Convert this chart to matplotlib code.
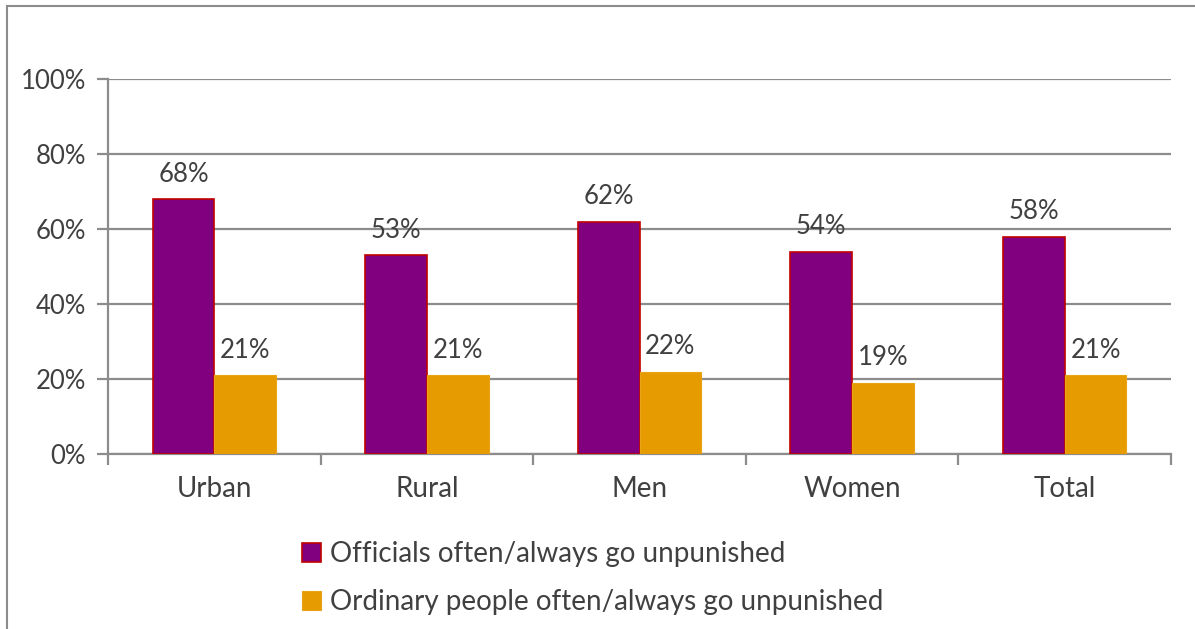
import numpy as np
import matplotlib
matplotlib.use("Agg")
import matplotlib.pyplot as plt
from matplotlib.patches import Rectangle

categories = ["Urban", "Rural", "Men", "Women", "Total"]
officials = [68, 53, 62, 54, 58]
ordinary = [21, 21, 22, 19, 21]
series_names = ["Officials often/always go unpunished",
                "Ordinary people often/always go unpunished"]

plt.rcParams['font.family'] = ['Lato', 'DejaVu Sans']
txt = '#404040'
grid = '#8c8c8c'

fig = plt.figure(figsize=(11.95, 6.29), dpi=100)
ax = fig.add_axes([108/1195, 1 - 454/629, (1171-108)/1195, (454-79)/629])

x = np.arange(len(categories))
w = 0.29
b1 = ax.bar(x - w/2, officials, w, color='#800080', edgecolor='#c00000',
            linewidth=1.2, label=series_names[0], zorder=3)
b2 = ax.bar(x + w/2, ordinary, w, color='#e69c00', edgecolor='#e8a416',
            linewidth=0.8, label=series_names[1], zorder=3)

for bars, vals in ((b1, officials), (b2, ordinary)):
    for r, v in zip(bars, vals):
        ax.annotate(f"{v}%", (r.get_x() + r.get_width()/2, v),
                    xytext=(0, 9), textcoords='offset points',
                    ha='center', va='bottom', fontsize=18.5, color=txt)

ax.set_xlim(-0.5, len(categories) - 0.5)
ax.set_ylim(0, 100)
ax.set_yticks(range(0, 101, 20))
ax.set_yticklabels([f"{t}%" for t in range(0, 101, 20)])
ax.yaxis.grid(True, color=grid, linewidth=1.6, zorder=0)
ax.set_axisbelow(True)

ax.set_xticks(x)
ax.set_xticklabels(categories)
ax.set_xticks(np.arange(-0.5, len(categories)), minor=True)
ax.tick_params(axis='x', which='major', length=0, pad=16, labelsize=20, labelcolor=txt)
ax.tick_params(axis='x', which='minor', length=8, width=1.6, color=grid, direction='out')
ax.tick_params(axis='y', length=8, width=1.6, color=grid, pad=8, labelsize=18.5, labelcolor=txt)

for s in ('top', 'right'):
    ax.spines[s].set_visible(False)
for s in ('left', 'bottom'):
    ax.spines[s].set_color(grid)
    ax.spines[s].set_linewidth(1.6)

leg = fig.legend(handles=[b1, b2], loc='upper left', bbox_to_anchor=(277/1195, 1 - 516/629),
                 frameon=False, fontsize=20, labelcolor=txt, handlelength=0.7,
                 handleheight=0.7, handletextpad=0.3, labelspacing=0.8)

# outer chart frame
fig.add_artist(Rectangle((7/1195, -0.1), 1.2, 1 - 6/629 + 0.1, transform=fig.transFigure,
                         fill=False, edgecolor='#8c8c8c', linewidth=1.5))

fig.savefig("out.png", dpi=100)
